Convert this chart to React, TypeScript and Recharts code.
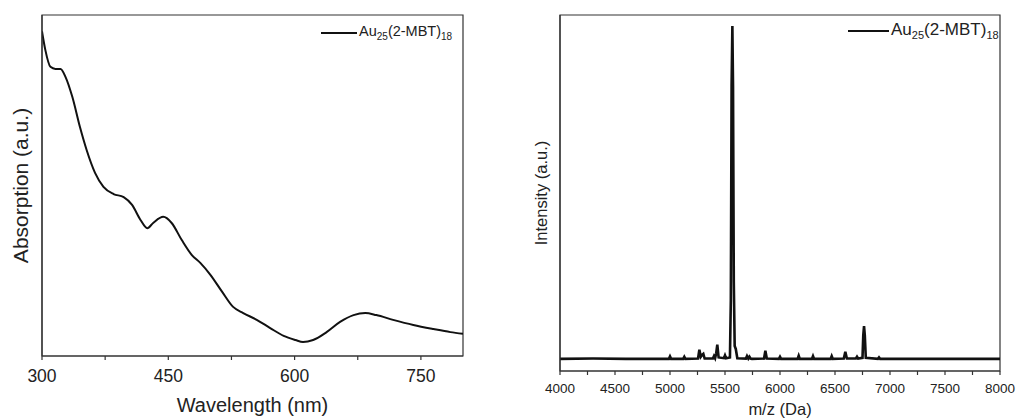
import { Legend, Line, LineChart, ReferenceArea, XAxis, YAxis } from 'recharts';

// UV-vis absorption (a.u., baseline = bottom of frame)
const absWavelength = [
  300, 304, 310, 316, 322, 328, 336, 345, 353, 363, 373, 385, 397, 407, 417, 425, 432, 444, 454, 466,
  478, 488, 500, 514, 527, 539, 555, 571, 587, 601, 610, 622, 638, 654, 670, 684, 697, 717, 741, 765,
  785, 800,
];
const absValue = [
  0.952, 0.897, 0.848, 0.842, 0.842, 0.818, 0.76, 0.672, 0.604, 0.537, 0.496, 0.475, 0.466, 0.443,
  0.399, 0.375, 0.39, 0.408, 0.39, 0.34, 0.296, 0.273, 0.238, 0.188, 0.144, 0.126, 0.106, 0.082,
  0.059, 0.047, 0.041, 0.047, 0.07, 0.1, 0.12, 0.126, 0.12, 0.106, 0.091, 0.079, 0.07, 0.065,
];
const absTicks = [300, 375, 450, 525, 600, 675, 750];
const absTickLabels = ['300', '', '450', '', '600', '', '750'];

// MALDI mass spectrum
const msMass = [
  4000, 4300, 4600, 4990, 5000, 5010, 5120, 5130, 5140, 5255, 5267, 5280, 5292, 5303, 5315, 5390, 5400,
  5410, 5420, 5430, 5442, 5490, 5500, 5510, 5545, 5553, 5560, 5567, 5573, 5580, 5588, 5598, 5612, 5690,
  5700, 5712, 5722, 5732, 5745, 5855, 5867, 5880, 5990, 6000, 6010, 6160, 6170, 6180, 6290, 6300, 6310,
  6460, 6470, 6480, 6580, 6594, 6608, 6690, 6700, 6710, 6750, 6757, 6764, 6771, 6780, 6890, 6900, 6910,
  7300, 7700, 8000,
];
const msIntensity = [
  0.034, 0.035, 0.034, 0.034, 0.041, 0.034, 0.034, 0.04, 0.034, 0.035, 0.06, 0.04, 0.045, 0.048, 0.035,
  0.035, 0.042, 0.036, 0.05, 0.074, 0.038, 0.036, 0.044, 0.036, 0.038, 0.2, 0.8, 0.969, 0.8, 0.25, 0.07,
  0.062, 0.036, 0.035, 0.042, 0.035, 0.04, 0.035, 0.034, 0.035, 0.057, 0.035, 0.034, 0.04, 0.034,
  0.034, 0.043, 0.034, 0.034, 0.042, 0.034, 0.034, 0.042, 0.034, 0.035, 0.054, 0.035, 0.035, 0.04,
  0.035, 0.037, 0.1, 0.126, 0.1, 0.037, 0.034, 0.038, 0.034, 0.034, 0.034, 0.034,
];
const msTicks = [4000, 4250, 4500, 4750, 5000, 5250, 5500, 5750, 6000, 6250, 6500, 6750, 7000, 7250, 7500, 7750, 8000];
const msTickLabels = ['4000', '', '4500', '', '5000', '', '5500', '', '6000', '', '6500', '', '7000', '', '7500', '', '8000'];

const FONT = '"Liberation Sans", Arial, sans-serif';
const INK = '#111';
const FRAME = '#333';

const absData = absWavelength.map((w, i) => ({ w, a: absValue[i] }));
const msData = msMass.map((m, i) => ({ m, v: msIntensity[i] }));

function makeTick(labels: string[], ticks: number[], fontSize: number, dyBase: number) {
  return (props: any) => {
    const { x, y, payload } = props;
    const idx = ticks.indexOf(payload.value);
    const text = idx >= 0 ? labels[idx] : '';
    return (
      <g>
        <line x1={x} x2={x} y1={y} y2={y + 4} stroke={FRAME} strokeWidth={1.2} />
        {text && (
          <text x={x} y={y + dyBase} textAnchor="middle" fontSize={fontSize} fill="#222" fontFamily={FONT}>
            {text}
          </text>
        )}
      </g>
    );
  };
}

function SeriesLegend({ lineW, fontSize, subSize }: { lineW: number; fontSize: number; subSize: number }) {
  return (
    <div style={{ display: 'flex', alignItems: 'center', fontFamily: FONT, fontSize, color: '#222', whiteSpace: 'nowrap', lineHeight: 1 }}>
      <svg width={lineW} height={4} style={{ display: 'block' }}>
        <line x1={0} y1={2} x2={lineW} y2={2} stroke={INK} strokeWidth={2} />
      </svg>
      <span style={{ marginLeft: 2 }}>
        Au<sub style={{ fontSize: subSize, verticalAlign: -4 }}>25</sub>(2-MBT)
        <sub style={{ fontSize: subSize, verticalAlign: -4 }}>18</sub>
      </span>
    </div>
  );
}

export default function App() {
  return (
    <div style={{ position: 'absolute', left: 0, top: 0, width: 1016, height: 419, background: '#fff' }}>
      <div style={{ position: 'absolute', left: 0, top: 0 }}>
        <LineChart width={480} height={419} data={absData} margin={{ top: 15, right: 17, bottom: 0, left: 0 }}>
          <XAxis
            dataKey="w"
            type="number"
            domain={[300, 800]}
            ticks={absTicks}
            interval={0}
            allowDataOverflow
            height={63}
            tickSize={0}
            tickMargin={0}
            tickLine={false}
            tick={makeTick(absTickLabels, absTicks, 17.5, 26)}
            axisLine={{ stroke: FRAME, strokeWidth: 1.2 }}
            label={{ value: 'Wavelength (nm)', position: 'insideBottom', offset: 7, fontSize: 20, fill: '#222', fontFamily: FONT }}
          />
          <YAxis
            type="number"
            domain={[0, 1]}
            width={42}
            tick={false}
            tickLine={false}
            axisLine={{ stroke: FRAME, strokeWidth: 1.2 }}
            label={{ value: 'Absorption (a.u.)', angle: -90, position: 'insideLeft', offset: 21, fontSize: 21, fill: '#222', fontFamily: FONT, style: { textAnchor: 'middle' } }}
          />
          <ReferenceArea x1={300} x2={800} y1={0} y2={1} fill="none" stroke={FRAME} strokeWidth={1.2} ifOverflow="visible" />
          <Legend
            layout="horizontal"
            verticalAlign="middle"
            align="center"
            content={() => <SeriesLegend lineW={36} fontSize={14.5} subSize={10} />}
            wrapperStyle={{ top: 24, left: 321, width: 'auto' }}
          />
          <Line type="monotone" dataKey="a" stroke={INK} strokeWidth={2} dot={false} isAnimationActive={false} />
        </LineChart>
      </div>
      <div style={{ position: 'absolute', left: 500, top: 0 }}>
        <LineChart width={516} height={419} data={msData} margin={{ top: 15, right: 16, bottom: 0, left: 0 }}>
          <XAxis
            dataKey="m"
            type="number"
            domain={[4000, 8000]}
            ticks={msTicks}
            interval={0}
            allowDataOverflow
            height={48}
            tickSize={0}
            tickMargin={0}
            tickLine={false}
            tick={makeTick(msTickLabels, msTicks, 13.5, 21.5)}
            axisLine={{ stroke: FRAME, strokeWidth: 1.2 }}
            label={{ value: 'm/z (Da)', position: 'insideBottom', offset: 4, fontSize: 16.5, fill: '#222', fontFamily: FONT }}
          />
          <YAxis
            type="number"
            domain={[0, 1]}
            width={60}
            tick={false}
            tickLine={false}
            axisLine={{ stroke: FRAME, strokeWidth: 1.2 }}
            label={{ value: 'Intensity (a.u.)', angle: -90, position: 'insideLeft', offset: 41.5, fontSize: 16.5, fill: '#222', fontFamily: FONT, style: { textAnchor: 'middle' } }}
          />
          <ReferenceArea x1={4000} x2={8000} y1={0} y2={1} fill="none" stroke={FRAME} strokeWidth={1.2} ifOverflow="visible" />
          <Legend
            layout="horizontal"
            verticalAlign="middle"
            align="center"
            content={() => <SeriesLegend lineW={41} fontSize={17} subSize={11} />}
            wrapperStyle={{ top: 21, left: 348, width: 'auto' }}
          />
          <Line type="linear" dataKey="v" stroke={INK} strokeWidth={2.6} dot={false} isAnimationActive={false} />
        </LineChart>
      </div>
    </div>
  );
}
